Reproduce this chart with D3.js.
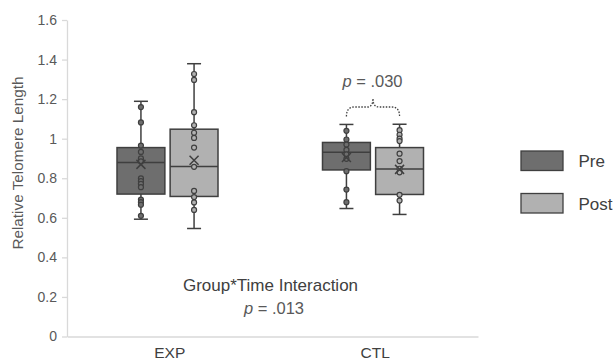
<!DOCTYPE html>
<html><head><meta charset="utf-8">
<script src="https://cdn.jsdelivr.net/npm/d3@7"></script>
<style>body{margin:0;background:#fff}text{font-family:"Liberation Sans",Arial,sans-serif}</style>
</head><body><svg id="c" width="615" height="362"></svg>
<script>
const groups = ["EXP", "CTL"];
const times = ["Pre", "Post"];
const yTicks = [0, 0.2, 0.4, 0.6, 0.8, 1.0, 1.2, 1.4, 1.6];
// box stats: [min whisker, q1, median, q3, max whisker, mean]
const expPreStats  = [0.593, 0.720, 0.880, 0.955, 1.189, 0.870];
const expPostStats = [0.546, 0.708, 0.860, 1.048, 1.379, 0.891];
const ctlPreStats  = [0.647, 0.842, 0.932, 0.981, 1.072, 0.905];
const ctlPostStats = [0.617, 0.718, 0.847, 0.955, 1.073, 0.845];
// individual points
const expPrePts  = [1.160, 1.082, 0.965, 0.933, 0.900, 0.885, 0.799, 0.785, 0.772, 0.755, 0.692, 0.679, 0.666, 0.610];
const expPostPts = [1.327, 1.297, 1.134, 1.068, 1.030, 1.004, 0.955, 0.858, 0.736, 0.705, 0.678, 0.640];
const ctlPrePts  = [1.040, 0.996, 0.970, 0.943, 0.921, 0.898, 0.836, 0.743, 0.679];
const ctlPostPts = [1.043, 1.020, 1.000, 0.988, 0.924, 0.887, 0.848, 0.830, 0.716, 0.687];

const series = [
  {g:"EXP", t:"Pre",  s:expPreStats,  p:expPrePts},
  {g:"EXP", t:"Post", s:expPostStats, p:expPostPts},
  {g:"CTL", t:"Pre",  s:ctlPreStats,  p:ctlPrePts},
  {g:"CTL", t:"Post", s:ctlPostStats, p:ctlPostPts}
];
const fills = {Pre:"#6e6e6e", Post:"#b1b1b1"};
const stroke = "#3f3f3f";

const svg = d3.select("#c");
const y = d3.scaleLinear().domain([0, 1.6]).range([336.5, 20]);
const x = d3.scaleBand().domain(groups).range([67, 478]);
const x1 = d3.scaleBand().domain(times).range([-52.75, 48.25]).paddingInner(0.099);

// axes
const yAxis = svg.append("g").attr("transform","translate(67,0)")
  .call(d3.axisLeft(y).tickValues(yTicks).tickSize(5).tickSizeOuter(0).tickPadding(5)
    .tickFormat(d => String(+d.toFixed(1))));
yAxis.selectAll("path,line").attr("stroke","#d9d9d9").attr("stroke-width",1.3);
yAxis.selectAll("text").attr("fill","#595959").style("font-size","14px");

const xAxis = svg.append("g").attr("transform","translate(0,336.5)")
  .call(d3.axisBottom(x).tickSize(0).tickSizeOuter(0).tickPadding(10));
xAxis.selectAll("path").attr("stroke","#d9d9d9").attr("stroke-width",1.6);
xAxis.selectAll("text").attr("fill","#404040").style("font-size","15.5px");

svg.append("text").attr("transform","translate(23,163) rotate(-90)")
  .attr("text-anchor","middle").attr("fill","#595959").style("font-size","15.3px")
  .text("Relative Telomere Length");

// boxes
const bw = x1.bandwidth();
series.forEach(d => {
  const cx = x(d.g) + x.bandwidth()/2 + x1(d.t) + bw/2;
  const left = cx - bw/2;
  const [mn, q1, md, q3, mx, mean] = d.s;
  const g = svg.append("g");
  g.append("line").attr("x1",cx).attr("x2",cx).attr("y1",y(mx)).attr("y2",y(mn))
    .attr("stroke",stroke).attr("stroke-width",1.5);
  [mn, mx].forEach(v => g.append("line").attr("x1",cx-7).attr("x2",cx+7)
    .attr("y1",y(v)).attr("y2",y(v)).attr("stroke",stroke).attr("stroke-width",1.5));
  g.append("rect").attr("x",left).attr("width",bw).attr("y",y(q3)).attr("height",y(q1)-y(q3))
    .attr("fill",fills[d.t]).attr("stroke",stroke).attr("stroke-width",1.5);
  g.append("line").attr("x1",left).attr("x2",left+bw).attr("y1",y(md)).attr("y2",y(md))
    .attr("stroke",stroke).attr("stroke-width",1.5);
  g.selectAll("circle").data(d.p).join("circle").attr("cx",cx).attr("cy",v=>y(v)).attr("r",2.5)
    .attr("fill",fills[d.t]).attr("stroke",stroke).attr("stroke-width",1.2);
  const my = y(mean), h = 4.5;
  g.append("path").attr("d",`M${cx-h},${my-h}L${cx+h},${my+h}M${cx-h},${my+h}L${cx+h},${my-h}`)
    .attr("stroke",stroke).attr("stroke-width",1.5).attr("fill","none");
});

// brace over CTL
const bPre = x("CTL") + x.bandwidth()/2 + x1("Pre") + bw/2;
const bPost = x("CTL") + x.bandwidth()/2 + x1("Post") + bw/2;
const bm = (bPre + bPost)/2;
const yb = 116.5, yf = 107, yt = 98.5;
svg.append("path")
  .attr("d",`M${bPre},${yb} Q${bPre},${yf} ${bPre+8},${yf} L${bm-6},${yf} Q${bm},${yf} ${bm},${yt} Q${bm},${yf} ${bm+6},${yf} L${bPost-8},${yf} Q${bPost},${yf} ${bPost},${yb}`)
  .attr("fill","none").attr("stroke","#404040").attr("stroke-width",1.3).attr("stroke-dasharray","1.5,1.5");

function pText(xc, yc, val, fs) {
  const t = svg.append("text").attr("x",xc).attr("y",yc).attr("text-anchor","middle")
    .attr("fill","#595959").style("font-size",fs);
  t.append("tspan").attr("font-style","italic").text("p");
  t.append("tspan").text(" = " + val);
}
pText(bm - 0.5, 87, ".030", "16.5px");
svg.append("text").attr("x",270.5).attr("y",290.5).attr("text-anchor","middle")
  .attr("fill","#404040").style("font-size","17px").text("Group*Time Interaction");
pText(274, 313.5, ".013", "16.5px");

// legend
times.forEach((t,i) => {
  const ly = 151 + i*42.5;
  svg.append("rect").attr("x",521).attr("y",ly).attr("width",42).attr("height",19.5)
    .attr("fill",fills[t]).attr("stroke",stroke).attr("stroke-width",1.3);
  svg.append("text").attr("x",578.5).attr("y",ly+16).attr("fill","#404040")
    .style("font-size","17px").text(t);
});
</script></body></html>
